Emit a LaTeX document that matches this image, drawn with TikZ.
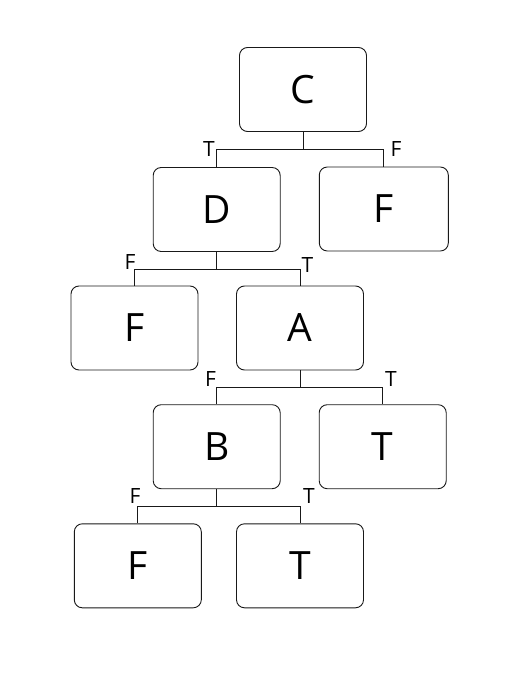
\documentclass[tikz,border=0pt]{standalone}
\usepackage{fontspec}
\setmainfont{Open Sans}

\definecolor{EdgeColor}{rgb}{0.1,0.1,0.1}
\tikzstyle{tree-node-base}=[rectangle,
                              draw=EdgeColor,
                              rounded corners=8pt,
                              text centered,
                              line width=0.9pt,
                              inner sep=0pt,
                              minimum height=84pt,
                             ]
\tikzstyle{decision}=[tree-node-base,
                        font=\fontsize{39}{41}\selectfont,
                        minimum width=127pt]
\tikzstyle{branch}=[inner sep=0pt,
                      font=\fontsize{21}{23}\selectfont]
\tikzstyle{tree-line}=[draw=EdgeColor, line width=0.9pt]

\begin{document}
\begin{tikzpicture}[x=1pt, y=-1pt]
    \useasboundingbox (0,0) rectangle (528,674);

    % Nodes
    % --------------------------------------------------------------------------
    \node at (303.0,  89.5) (root_c)  [decision] {C};

    \node at (216.7, 209.5) (node_d)  [decision] {D};
    \node at (383.8, 209.0) (leaf_f1) [decision, minimum width=129pt] {F};

    \node at (134.5, 328.0) (leaf_f2) [decision] {F};
    \node at (300.0, 328.0) (node_a)  [decision] {A};

    \node at (216.7, 446.7) (node_b)  [decision] {B};
    \node at (382.7, 446.7) (leaf_t1) [decision] {T};

    \node at (137.8, 565.8) (leaf_f3) [decision] {F};
    \node at (300.0, 565.8) (leaf_t2) [decision] {T};

    % Branches
    % --------------------------------------------------------------------------
    \draw[tree-line] (root_c.south) -- ++(0,17) -| (node_d.north);
    \draw[tree-line] (root_c.south) -- ++(0,17) -| (leaf_f1.north);

    \draw[tree-line] (node_d.south) -- ++(0,17) -| (leaf_f2.north);
    \draw[tree-line] (node_d.south) -- ++(0,17) -| (node_a.north);

    \draw[tree-line] (node_a.south) -- ++(0,17) -| (node_b.north);
    \draw[tree-line] (node_a.south) -- ++(0,17) -| (leaf_t1.north);

    \draw[tree-line] (node_b.south) -- ++(0,17) -| (leaf_f3.north);
    \draw[tree-line] (node_b.south) -- ++(0,17) -| (leaf_t2.north);

    % Branch labels
    % --------------------------------------------------------------------------
    \node at (209.0, 149.5) (label_c_t) [branch] {T};
    \node at (396.0, 149.5) (label_c_f) [branch] {F};

    \node at (130.0, 262.0) (label_d_f) [branch] {F};
    \node at (307.5, 265.5) (label_d_t) [branch] {T};

    \node at (210.5, 379.0) (label_a_f) [branch] {F};
    \node at (391.0, 379.0) (label_a_t) [branch] {T};

    \node at (135.0, 495.5) (label_b_f) [branch] {F};
    \node at (309.0, 495.5) (label_b_t) [branch] {T};
\end{tikzpicture}
\end{document}
